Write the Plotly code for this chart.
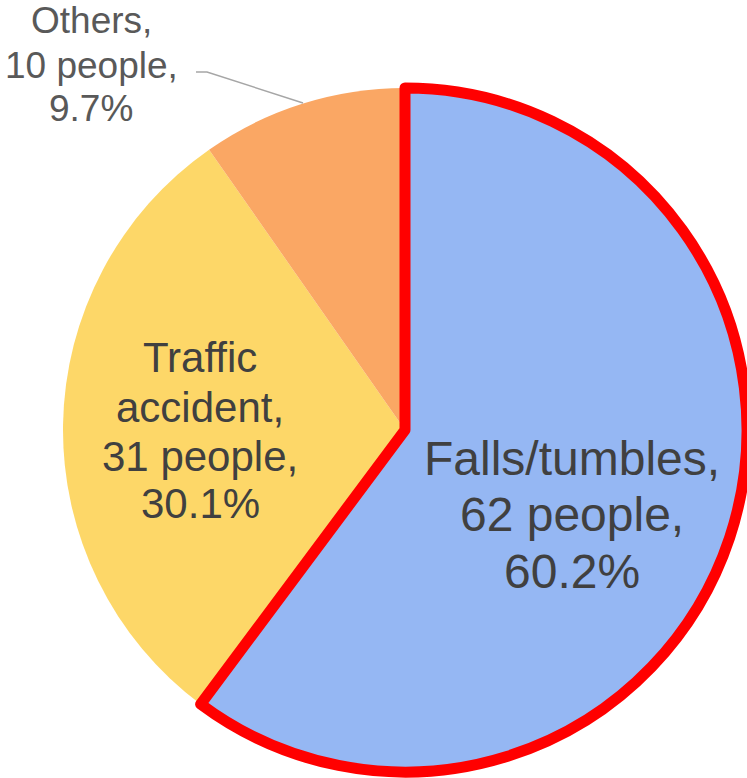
import plotly.graph_objects as go

# Data (clockwise from 12 o'clock)
categories = ["Falls/tumbles", "Traffic accident", "Others"]
people = [62, 31, 10]
colors = ["#95B7F3", "#FDD768", "#FAA764"]

# label text lines (category part)
label_lines = [["Falls/tumbles,"], ["Traffic", "accident,"], ["Others,"]]

W, H = 747, 778
total = sum(people)
pcts = [round(100 * v / total, 1) for v in people]

dom = dict(x=[63 / W, 1.0], y=[6 / H, 690 / H])

fig = go.Figure()
# filled pie
fig.add_trace(go.Pie(
    labels=categories, values=people, sort=False, direction="clockwise",
    textinfo="none", hoverinfo="label+value+percent",
    marker=dict(colors=colors, line=dict(width=0)),
    domain=dom, showlegend=False,
))
# outline overlay (only the highlighted slice)
fig.add_trace(go.Pie(
    labels=categories, values=people, sort=False, direction="clockwise",
    textinfo="none", hoverinfo="skip",
    marker=dict(colors=["rgba(0,0,0,0)"] * 3,
                line=dict(color=["#FF0000", "rgba(0,0,0,0)", "rgba(0,0,0,0)"],
                          width=[11, 0, 0])),
    domain=dom, showlegend=False,
))

# label placement: x center (px) and line centers (px), font sizes, colors
label_x = [572, 200, 91]
label_y = [[458, 514, 571], [357, 407, 456, 504], [21, 65, 108]]
label_size = [48, 42, 37]
label_color = ["#404040", "#404040", "#595959"]

for i, cat in enumerate(categories):
    lines = label_lines[i] + [f"{people[i]} people,", f"{pcts[i]}%"]
    for j, ln in enumerate(lines):
        fig.add_annotation(
            x=label_x[i] / W, y=1 - label_y[i][j] / H, xref="paper", yref="paper",
            text=ln, showarrow=False, xanchor="center", yanchor="middle",
            font=dict(family="Liberation Sans, Arial, sans-serif",
                      size=label_size[i], color=label_color[i]),
        )

# leader line for Others
fig.add_shape(type="path", xref="paper", yref="paper",
              path=f"M {196 / W} {1 - 72 / H} L {207 / W} {1 - 72 / H} L {303 / W} {1 - 103 / H}",
              line=dict(color="#A6A6A6", width=1.5))

fig.update_layout(
    width=W, height=H,
    margin=dict(l=0, r=0, t=0, b=0),
    paper_bgcolor="white", plot_bgcolor="white",
)

fig.write_html("out.html", config={"displayModeBar": False},
               post_script="document.body.style.margin='0';")
